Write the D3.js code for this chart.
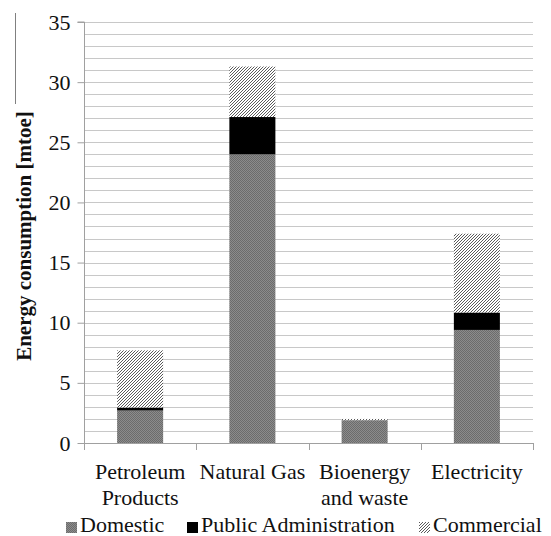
<!DOCTYPE html>
<html><head><meta charset="utf-8">
<script src="https://cdn.jsdelivr.net/npm/d3@7"></script>
<style>body{margin:0;background:#fff}</style>
</head><body>
<script>
const categories = [["Petroleum","Products"],["Natural Gas"],["Bioenergy","and waste"],["Electricity"]];
const categoryKeys = ["Petroleum Products","Natural Gas","Bioenergy and waste","Electricity"];
const seriesNames = ["Domestic","Public Administration","Commercial"];
const domestic = [2.7, 24.0, 1.9, 9.4];
const publicAdmin = [0.25, 3.1, 0.0, 1.45];
const commercial = [4.75, 4.2, 0.1, 6.55];
const yTicks = [0,5,10,15,20,25,30,35];

const FONT="'Liberation Serif', 'Times New Roman', serif";
const W=551,H=536;
const svg=d3.select("body").append("svg").attr("width",W).attr("height",H);
const defs=svg.append("defs");
const pd=defs.append("pattern").attr("id","pDom").attr("patternUnits","userSpaceOnUse").attr("width",2).attr("height",2);
pd.append("rect").attr("width",2).attr("height",2).attr("fill","#8c8c8c");
pd.append("rect").attr("width",1).attr("height",1).attr("fill","#6c6c6c");
pd.append("rect").attr("x",1).attr("y",1).attr("width",1).attr("height",1).attr("fill","#6c6c6c");
const pc=defs.append("pattern").attr("id","pCom").attr("patternUnits","userSpaceOnUse").attr("width",3).attr("height",3);
pc.append("rect").attr("width",3).attr("height",3).attr("fill","#fff");
pc.append("path").attr("d","M-1,1 l2,-2 M0,3 l3,-3 M2,4 l2,-2").attr("stroke","#5a5a5a").attr("stroke-width",1);

const fills=["url(#pDom)","#000","url(#pCom)"];

const x0=84,x1=533,yTop=22,yBot=443;
const x=d3.scaleBand().domain(categoryKeys).range([x0,x1]).paddingInner(0.59).paddingOuter(0.295);
const y=d3.scaleLinear().domain([0,35]).range([yBot,yTop]);

svg.append("g").selectAll("line").data(d3.range(1,36)).join("line")
 .attr("x1",x0).attr("x2",x1).attr("y1",d=>Math.round(y(d))+0.5).attr("y2",d=>Math.round(y(d))+0.5)
 .attr("stroke","#c8c8c8").attr("stroke-width",1);

const ya=d3.axisLeft(y).tickValues(yTicks).tickSize(7).tickPadding(7);
const yg=svg.append("g").attr("transform",`translate(${x0+0.5},0)`).call(ya);
yg.select(".domain").attr("stroke","#a0a0a0").attr("d",`M-7,${yTop}H0V${yBot}`);
yg.selectAll(".tick line").attr("stroke","#a0a0a0");
yg.selectAll(".tick text").attr("font-family",FONT).attr("font-size",22).attr("fill","#111");

const rows=categoryKeys.map((c,i)=>({cat:c,Domestic:domestic[i],"Public Administration":publicAdmin[i],Commercial:commercial[i]}));
const stack=d3.stack().keys(seriesNames)(rows);
svg.append("g").selectAll("g").data(stack).join("g").attr("fill",(d,i)=>fills[i])
 .selectAll("rect").data(d=>d).join("rect")
 .attr("x",d=>x(d.data.cat)).attr("width",x.bandwidth())
 .attr("y",d=>y(d[1])).attr("height",d=>y(d[0])-y(d[1]));

svg.append("line").attr("x1",x0).attr("x2",x1).attr("y1",yBot+0.5).attr("y2",yBot+0.5).attr("stroke","#a0a0a0");
const step=(x1-x0)/categoryKeys.length;
svg.append("g").selectAll("line").data(d3.range(0,categoryKeys.length+1)).join("line")
 .attr("x1",i=>Math.round(x0+i*step)+0.5).attr("x2",i=>Math.round(x0+i*step)+0.5).attr("y1",yBot).attr("y2",yBot+7).attr("stroke","#a0a0a0");
const xl=svg.append("g");
categories.forEach((lines,i)=>{
  const cx=x(categoryKeys[i])+x.bandwidth()/2;
  const t=xl.append("text").attr("text-anchor","middle").attr("font-family",FONT).attr("font-size",22).attr("fill","#111");
  lines.forEach((l,j)=>t.append("tspan").attr("x",cx).attr("y",479+j*26).text(l));
});

// stray vertical line at top-left of reference
svg.append("line").attr("x1",15.5).attr("x2",15.5).attr("y1",13).attr("y2",104).attr("stroke","#808080");

svg.append("text").attr("transform","translate(31,236) rotate(-90)").attr("text-anchor","middle")
 .attr("font-family",FONT).attr("font-weight","bold").attr("font-size",21).attr("fill","#111")
 .text("Energy consumption [mtoe]");

const legX=[66,187,419];
const lg=svg.append("g");
seriesNames.forEach((s,i)=>{
  lg.append("rect").attr("x",legX[i]).attr("y",522).attr("width",11).attr("height",11).attr("fill",fills[i]);
  lg.append("text").attr("x",legX[i]+14).attr("y",532).attr("font-family",FONT).attr("font-size",22).attr("fill","#111").text(s);
});
</script>
</body></html>
